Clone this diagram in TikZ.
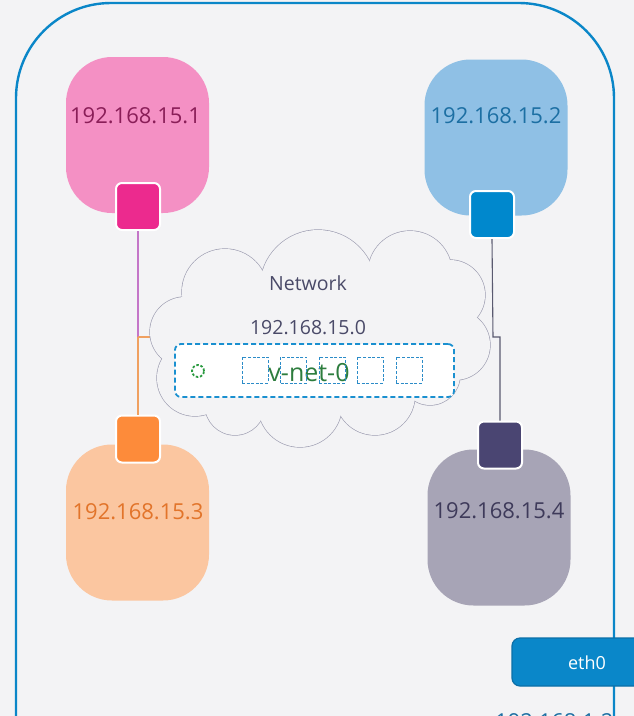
\documentclass[tikz,border=0pt]{standalone}
\usepackage{fontspec}
\setmainfont{Open Sans}
\definecolor{bgc}{HTML}{F3F3F5}
\definecolor{framec}{HTML}{0A86C8}
\definecolor{pinkfill}{HTML}{F490C4}
\definecolor{pinktext}{HTML}{8A1E58}
\definecolor{pinkport}{HTML}{EC2A8E}
\definecolor{bluefill}{HTML}{8FC0E5}
\definecolor{bluetext}{HTML}{1C6FA3}
\definecolor{blueport}{HTML}{0088CD}
\definecolor{orangefill}{HTML}{FBC6A0}
\definecolor{orangetext}{HTML}{E2742A}
\definecolor{orangeport}{HTML}{FD8B3A}
\definecolor{greyfill}{HTML}{A7A4B6}
\definecolor{greytext}{HTML}{3E3A5A}
\definecolor{greyport}{HTML}{4A4572}
\definecolor{cloudc}{HTML}{9E9EB2}
\definecolor{nettextc}{HTML}{4A4A68}
\definecolor{dashc}{HTML}{1A90D0}
\definecolor{slotc}{HTML}{2C8CC8}
\definecolor{vnetgreen}{HTML}{2D7D3E}
\definecolor{dotgreen}{HTML}{2A9A40}
\definecolor{linkpurple}{HTML}{C476C8}
\definecolor{linkorange}{HTML}{F0A060}
\definecolor{linkgrey}{HTML}{5A5A70}
\definecolor{ethfill}{HTML}{0A87C9}
\definecolor{ethborder}{HTML}{0B6FA8}
\begin{document}
\begin{tikzpicture}[x=1pt,y=-1pt,
  host/.style={rectangle, rounded corners=46pt, minimum width=143pt, minimum height=156pt, inner sep=0pt},
  port/.style={rectangle, rounded corners=6pt, draw=white, line width=2pt, minimum width=44pt, minimum height=47pt, inner sep=0pt},
  iplabel/.style={font=\fontsize{22}{26}\selectfont, inner sep=0pt},
  nettext/.style={font=\fontsize{19.5}{23}\selectfont, text=nettextc, inner sep=0pt},
  link/.style={line width=1.1pt},
  cloudline/.style={draw=cloudc, line width=1.3pt},
  slot/.style={rectangle, draw=slotc, line width=0.9pt, dash pattern=on 3pt off 1.6pt, minimum size=26pt, inner sep=0pt},
  frameline/.style={draw=framec, line width=2.4pt}]

% page and background
\fill[bgc] (0,0) rectangle (634,716);
\useasboundingbox (0,0) rectangle (634,716);

% outer host frame, running past the lower page edge
\begin{scope}
  \clip (0,0) rectangle (634,716);
  \draw[frameline, rounded corners=95pt] (16,3) rectangle (614,830);
\end{scope}

% containers
\node[host, fill=pinkfill]   (h1) at (137.5,135)   {};
\node[host, fill=bluefill]   (h2) at (496,137.5)   {};
\node[host, fill=orangefill] (h3) at (137.5,522.5) {};
\node[host, fill=greyfill]   (h4) at (499,527.5)   {};

\node[iplabel, text=pinktext]   (h1ip) at (135.5,116) {192.168.15.1};
\node[iplabel, text=bluetext]   (h2ip) at (496,116)   {192.168.15.2};
\node[iplabel, text=orangetext] (h3ip) at (138,512)   {192.168.15.3};
\node[iplabel, text=greytext]   (h4ip) at (499,511)   {192.168.15.4};

% interfaces
\node[port, fill=pinkport]   (p1) at (138,206.5) {};
\node[port, fill=blueport]   (p2) at (492,214.5) {};
\node[port, fill=orangeport] (p3) at (138,439)   {};
\node[port, fill=greyport]   (p4) at (500,445)   {};

% links into the network
\coordinate (jl) at (138,337);
\coordinate (cl) at (152,337);
\coordinate (jr) at (493,337);
\coordinate (jr2) at (500,337);
\draw[link, linkpurple] (p1.south) -- (jl);
\draw[link, linkorange] (jl) -- (p3.north);
\draw[link, linkorange] (jl) -- (cl);
\draw[link, linkgrey] (p2.south) -- (jr) -- (jr2) -- (p4.north);

% cloud built from overlapping puffs
\def\puffs{225/292/43, 318/288/58, 410/273/42, 450/295/35, 455/345/35,
  185/332/35, 195/378/38, 235/405/30, 300/405/42, 375/395/40, 430/375/30}
\foreach \cx/\cy/\r in \puffs
  \draw[cloudline, fill=bgc] (\cx,\cy) circle[radius=\r pt];
\foreach \cx/\cy/\r in \puffs
  \fill[bgc] (\cx,\cy) circle[radius=\r pt];
\fill[bgc] (320,335) ellipse[x radius=135pt, y radius=70pt];

\node[nettext] (netname) at (308,283) {Network};
\node[nettext] (netaddr) at (308,328) {192.168.15.0};

% bridge
\node[rectangle, rounded corners=6pt, fill=white, draw=dashc, line width=1.8pt,
      dash pattern=on 5pt off 3pt, minimum width=279pt, minimum height=53pt,
      inner sep=0pt] (vnet) at (314.5,370.5) {};
\node[circle, draw=dotgreen, line width=1.8pt, dash pattern=on 2.5pt off 1.8pt,
      minimum size=12pt, inner sep=0pt] (vnetdot) at (198,371) {};
\node[font=\fontsize{25}{29}\selectfont, text=vnetgreen, inner sep=0pt] (vnetname) at (309,373) {v-net-0};
\node[slot] (s1) at (255,370)   {};
\node[slot] (s2) at (293.5,370) {};
\node[slot] (s3) at (332,370)   {};
\node[slot] (s4) at (370,370)   {};
\node[slot] (s5) at (409,370)   {};

% host interface
\begin{scope}
  \clip (0,0) rectangle (634,716);
  \node[rectangle, rounded corners=8pt, fill=ethfill, draw=ethborder, line width=1.2pt,
        minimum width=148pt, minimum height=48pt, inner sep=0pt] (eth) at (586,662) {};
  \node[font=\fontsize{18}{21}\selectfont, text=white, inner sep=0pt] (ethname) at (587,663) {eth0};
  \node[iplabel, text=bluetext, anchor=north west] (ethip) at (495,713) {192.168.1.2};
\end{scope}
\end{tikzpicture}
\end{document}
